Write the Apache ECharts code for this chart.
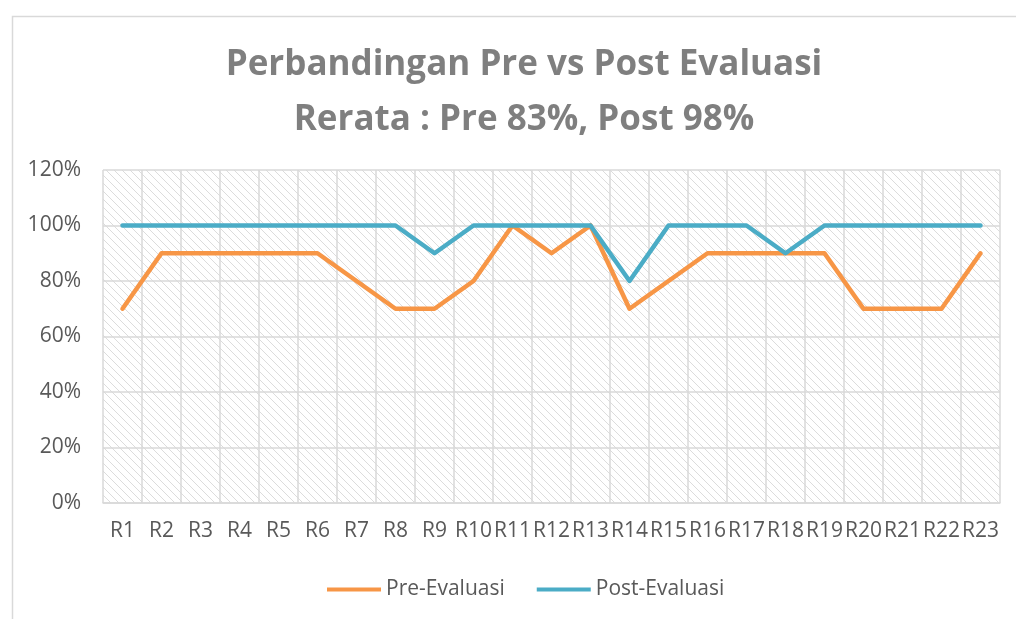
<!DOCTYPE html>
<html>
<head>
<meta charset="utf-8">
<script src="https://cdn.jsdelivr.net/npm/echarts@6/dist/echarts.min.js"></script>
<style>
  html, body { margin: 0; padding: 0; background: #fff; }
  #chart { width: 1016px; height: 619px; }
</style>
</head>
<body>
<div id="chart"></div>
<script>
const categories = ['R1', 'R2', 'R3', 'R4', 'R5', 'R6', 'R7', 'R8', 'R9', 'R10', 'R11', 'R12',
  'R13', 'R14', 'R15', 'R16', 'R17', 'R18', 'R19', 'R20', 'R21', 'R22', 'R23'];
const preEvaluasi = [0.7, 0.9, 0.9, 0.9, 0.9, 0.9, 0.8, 0.7, 0.7, 0.8, 1.0, 0.9,
  1.0, 0.7, 0.8, 0.9, 0.9, 0.9, 0.9, 0.7, 0.7, 0.7, 0.9];
const postEvaluasi = [1.0, 1.0, 1.0, 1.0, 1.0, 1.0, 1.0, 1.0, 0.9, 1.0, 1.0, 1.0,
  1.0, 0.8, 1.0, 1.0, 1.0, 0.9, 1.0, 1.0, 1.0, 1.0, 1.0];
const titleLines = ['Perbandingan Pre vs Post Evaluasi', 'Rerata : Pre 83%, Post 98%'];

// diagonal hatch for the plot area
const hatch = document.createElement('canvas');
hatch.width = 8;
hatch.height = 8;
const hctx = hatch.getContext('2d');
hctx.fillStyle = '#ffffff';
hctx.fillRect(0, 0, 8, 8);
hctx.strokeStyle = '#dcdcdc';
hctx.lineWidth = 1;
hctx.beginPath();
hctx.moveTo(-1, -1); hctx.lineTo(9, 9);
hctx.moveTo(7, -1); hctx.lineTo(9, 1);
hctx.moveTo(-1, 7); hctx.lineTo(1, 9);
hctx.stroke();

const font = '"Open Sans", "Noto Sans", sans-serif';
const labelColor = '#595959';
const gridColor = '#d9d9d9';

const chart = echarts.init(document.getElementById('chart'));
chart.setOption({
  backgroundColor: '#ffffff',
  animation: false,
  textStyle: { fontFamily: font },
  graphic: [{
    type: 'rect',
    left: 10,
    top: 14,
    shape: { width: 1100, height: 700 },
    style: { fill: 'none', stroke: gridColor, lineWidth: 1.5 },
    silent: true
  }],
  title: {
    text: titleLines.join('\n'),
    left: 519,
    top: 33,
    textAlign: 'center',
    textStyle: {
      fontFamily: font,
      fontSize: 35,
      fontWeight: 'bold',
      color: '#7f7f7f',
      lineHeight: 55
    }
  },
  legend: {
    data: ['Pre-Evaluasi', 'Post-Evaluasi'],
    left: 322,
    top: 574,
    icon: 'rect',
    itemWidth: 54,
    itemHeight: 4,
    itemGap: 32,
    textStyle: { fontFamily: font, fontSize: 21, color: labelColor }
  },
  grid: {
    show: true,
    left: 103,
    right: 16,
    top: 170,
    bottom: 116,
    backgroundColor: { image: hatch, repeat: 'repeat' },
    borderWidth: 0
  },
  xAxis: {
    type: 'category',
    data: categories,
    boundaryGap: true,
    axisLine: { lineStyle: { color: gridColor, width: 1.5 } },
    axisTick: { show: false },
    axisLabel: { color: labelColor, fontSize: 21, margin: 18, interval: 0 },
    splitLine: { show: true, interval: 0, lineStyle: { color: gridColor, width: 1.5 } }
  },
  yAxis: {
    type: 'value',
    min: 0,
    max: 1.2,
    interval: 0.2,
    axisLine: { show: false },
    axisTick: { show: false },
    axisLabel: {
      color: labelColor,
      fontSize: 21,
      margin: 22,
      formatter: v => Math.round(v * 100) + '%'
    },
    splitLine: { lineStyle: { color: gridColor, width: 1.5 } }
  },
  series: [
    {
      name: 'Pre-Evaluasi',
      type: 'line',
      data: preEvaluasi,
      symbol: 'none',
      itemStyle: { color: '#F79646' },
      lineStyle: { color: '#F79646', width: 4.5, cap: 'round', join: 'round' }
    },
    {
      name: 'Post-Evaluasi',
      type: 'line',
      data: postEvaluasi,
      symbol: 'none',
      itemStyle: { color: '#4BACC6' },
      lineStyle: { color: '#4BACC6', width: 4.5, cap: 'round', join: 'round' }
    }
  ]
});
</script>
</body>
</html>
